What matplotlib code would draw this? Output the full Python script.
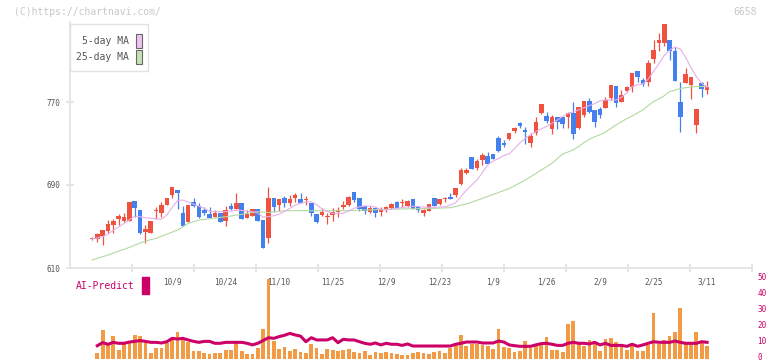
import numpy as np
import matplotlib.pyplot as plt
import matplotlib.transforms as mtransforms
from matplotlib.patches import Rectangle

W, H = 772, 361

# daily candles (red = up, blue = down)
opens = [638, 638, 641, 646, 651.4, 657.5, 655, 655, 674.6, 665.9,
         645, 644, 665, 663.3, 670.7, 680.7, 685, 663, 654.6, 674,
         669.7, 665.9, 662, 658.8, 662.7, 655.6, 670, 666.9, 672.3, 658.2,
         660.4, 666.5, 656, 639.2, 677.5, 670.7, 677.5, 673, 677.5, 676.5,
         675.8, 673, 662, 661, 658.8, 661, 664.3, 668.5, 670.7, 683.2,
         677.1, 669.7, 664.3, 667.5, 663.6, 665.9, 667.5, 673.9, 672.3, 669.7,
         676.5, 668.5, 663.3, 665.2, 677.1, 671.7, 676.2, 678.7, 680.4, 690.6,
         701.2, 716.7, 706.7, 714, 717.9, 719.9, 735, 730.8, 734, 742.1,
         749.5, 743.1, 730.5, 740.4, 759.2, 756.6, 744.4, 755.6, 755.9, 755.9,
         759.2, 745.3, 757.5, 771, 762.4, 763.3, 764.6, 774.3, 785.5, 770.4,
         780.7, 784.9, 800, 791.3, 789.7, 811.5, 827.3, 826.6, 829.8, 819.6,
         770.1, 788.1, 786.8, 748.2, 788.1, 781.6]
highs = [639.5, 643.4, 647, 656, 657, 661.7, 662.7, 673.6, 674.6, 665.9,
         651.4, 655.3, 668.5, 674, 677.5, 688, 685, 670, 670.7, 677.1,
         672.3, 668.5, 668.5, 665.9, 662.7, 669.7, 672.3, 682.6, 672.3, 665.9,
         666.5, 666.5, 656, 688, 677.5, 676.5, 679.4, 680.4, 682.6, 682.6,
         679.4, 673, 662, 667.5, 662.7, 667.5, 669, 674.9, 679.4, 683.2,
         677.1, 669.7, 669.7, 667.5, 668.5, 669.7, 673, 674.9, 676.5, 675.5,
         676.5, 669, 666.9, 671.7, 677.1, 676.2, 678.7, 682.6, 686.8, 706,
         706.7, 716.7, 714.7, 721.2, 721.5, 719.9, 737.2, 733.4, 740, 746.3,
         751.1, 746.3, 739.8, 755.9, 768.2, 760.8, 757, 755.6, 755.9, 760.8,
         770.1, 765.6, 771, 773.6, 762.4, 765.6, 775.2, 786.5, 785.5, 781.6,
         785.8, 797.7, 800, 792.9, 810.6, 829.8, 836.3, 845.3, 829.8, 823.4,
         789.7, 802.5, 793.9, 763.3, 789.7, 790.3]
lows = [637, 635.4, 632, 644, 644, 651.4, 654.6, 655, 659, 643,
        634.4, 644, 657, 659, 670.7, 677.5, 666.9, 650.5, 654.6, 668.5,
        657.9, 661, 658.5, 658.8, 654.6, 650.8, 665.9, 666.9, 657.5, 658.2,
        660.4, 655.6, 629.6, 634.4, 664.3, 665.2, 669, 669.7, 674, 673,
        671, 660, 653.7, 660.4, 652.4, 655.6, 658.8, 666.9, 669.7, 674,
        665.2, 662, 663.3, 659.5, 660.4, 663.6, 666.5, 667.5, 669, 669,
        666.9, 664.3, 660, 665.2, 669.7, 670.7, 673.3, 676.5, 678.7, 690,
        700.3, 705.4, 704.4, 709.3, 710.2, 714.7, 722.1, 726.3, 733, 739.9,
        745, 729.5, 726.5, 738.3, 758, 750, 739, 744, 744.7, 744.7,
        734.3, 744, 755.9, 759.2, 746.3, 754.3, 764.6, 772, 765.6, 770.4,
        780, 780, 789.7, 785.5, 785.5, 808, 819.6, 824.4, 810.6, 790.6,
        741.5, 788.1, 773.3, 739.9, 775.2, 777.8]
closes = [638, 642.4, 646.6, 652.4, 655.6, 660, 659.5, 673.6, 668, 644,
          647.6, 655.3, 665, 670.7, 677.5, 688, 682.3, 650.5, 670.7, 669.7,
          659.5, 662.7, 658.5, 662.7, 654.6, 665.9, 666.9, 672.3, 657.5, 662,
          666.5, 655.6, 629.6, 677.5, 669, 676.5, 672.3, 676.5, 680.4, 673,
          675.8, 663.3, 654.3, 664.3, 658.8, 664.3, 665.9, 670.7, 678, 675.5,
          666.9, 665.2, 668.1, 662.7, 666.9, 668.5, 671.7, 668.1, 673.9, 674.9,
          666.9, 665.9, 665.9, 671.7, 669.7, 676.2, 676.2, 676.5, 686.8, 704.4,
          704.4, 705.4, 713.1, 718.9, 710.2, 714.7, 723.1, 728.5, 740, 744.7,
          747.3, 741.4, 737.5, 751.1, 768.2, 752.1, 755.3, 750.8, 748.5, 759.2,
          739.1, 765.6, 771, 760.8, 751.1, 757.5, 772, 786.5, 769.4, 776.8,
          784.2, 797.7, 793.9, 787.1, 807.4, 820.2, 829.8, 845.3, 819.6, 790.6,
          755.9, 797.1, 793.9, 763.3, 782.9, 784.2]

ma5 = [638, 639, 640.2, 642.5, 646.5, 649.5, 653, 656.5, 660, 659.5,
       658.5, 658, 657.5, 657, 661, 668.5, 675, 675.5, 673.5, 671.5,
       669.5, 667.5, 664.5, 664.3, 664.3, 664.3, 665, 665.7, 665.5, 664.8,
       664.3, 663, 659, 659.5, 660.4, 662, 664.5, 667.5, 670.5, 672.5,
       673.5, 673.9, 671, 667, 664.5, 662.7, 662.7, 662.7, 665, 667.5,
       669, 669.7, 669.7, 668.5, 666.5, 666, 666.8, 667.5, 668.3, 669,
       669.5, 669.3, 668.7, 668.5, 668.5, 668.7, 669, 670.5, 673, 679,
       685, 690, 695, 702, 709.5, 713, 715.5, 718.5, 720, 725,
       730.5, 735, 738.5, 741.5, 744, 746.5, 749.5, 752.5, 756, 759,
       760.5, 762.4, 764.5, 766.5, 768.5, 771, 772, 772, 772, 774.5,
       779, 785, 786.5, 787.5, 792, 799.5, 807, 815, 820, 823,
       821, 813, 803, 794.5, 788, 784.2]
ma25 = [617.7, 619.3, 620.9, 622.5, 624.3, 626.2, 628, 629.9, 632, 634,
        636, 637.3, 638.6, 640.6, 642.6, 644.6, 646.6, 649.8, 653, 654.6,
        656.2, 656.8, 657.5, 658.1, 658.8, 659.4, 660.1, 660.9, 661.8, 662.6,
        663.5, 664.3, 663.9, 663.5, 664.1, 664.6, 665.2, 665.2, 665.2, 665.2,
        665.2, 665.2, 665.2, 665.2, 665.2, 665.2, 665.2, 665.2, 665.2, 665.4,
        665.7, 665.9, 666, 666.2, 666.3, 666.5, 666.6, 666.8, 666.9, 667,
        667.1, 667.2, 667.3, 667.4, 667.5, 667.7, 667.9, 668.1, 669.3, 670.5,
        671.7, 673.5, 675.3, 677.1, 679, 680.9, 682.8, 684.6, 686.5, 689.3,
        692, 694.8, 698, 701.2, 704.4, 707.7, 710.9, 715.4, 719.9, 721.8,
        724, 727, 731, 734, 736.5, 738.5, 741, 744.5, 748, 751,
        754, 756.5, 759.5, 762.4, 766.5, 770.4, 773, 776, 780, 781.5,
        783, 783.8, 784.4, 784.9, 784.9, 785]

# first day has no volume bar / AI value in the chart
volume = [0, 3.5, 17.8, 8.5, 14.1, 5.3, 9.5, 10.5, 14.7, 14.1,
          10.5, 3.5, 6.6, 6.6, 9.5, 11.6, 16.6, 13.0, 10.5, 4.7,
          4.7, 3.5, 2.8, 3.5, 3.5, 5.3, 5.3, 9.5, 4.7, 2.8,
          2.8, 6.6, 18.5, 49.7, 10.9, 6.0, 7.2, 4.7, 6.0, 4.1,
          3.5, 9.1, 6.6, 2.8, 6.0, 5.3, 4.7, 5.3, 6.0, 4.1,
          3.5, 4.7, 2.2, 4.1, 3.5, 4.1, 3.5, 2.8, 2.2, 2.2,
          3.5, 4.1, 3.5, 2.8, 4.1, 4.7, 3.5, 6.6, 8.5, 14.7,
          7.8, 9.1, 9.1, 8.5, 7.8, 6.0, 18.5, 7.2, 6.6, 4.1,
          4.7, 10.9, 6.6, 8.5, 8.5, 13.5, 5.3, 5.3, 4.1, 21.6,
          23.5, 9.1, 7.8, 11.6, 9.1, 4.7, 12.2, 12.8, 10.3, 8.5,
          5.3, 7.8, 4.7, 4.7, 8.5, 28.5, 9.1, 11.6, 14.1, 16.6,
          31.6, 9.1, 9.1, 16.6, 10.3, 7.8]
ai_predict = [np.nan, 8.0, 9.9, 8.9, 10.1, 9.5, 9.5, 10.3, 10.7, 11.2,
              10.7, 10.1, 10.1, 9.7, 10.5, 12.6, 12.2, 12.6, 11.6, 10.7,
              10.1, 10.7, 10.7, 9.5, 9.5, 10.1, 10.1, 10.1, 10.1, 9.5,
              8.5, 9.5, 11.2, 13.0, 12.6, 13.7, 14.5, 15.7, 14.7, 14.0,
              10.5, 13.0, 11.6, 11.6, 11.6, 13.0, 9.9, 12.0, 11.6, 11.6,
              10.5, 9.5, 8.9, 9.7, 8.5, 9.5, 8.9, 8.9, 8.2, 9.1,
              7.8, 7.8, 7.8, 7.8, 7.8, 7.8, 7.8, 7.8, 8.9, 9.5,
              10.3, 10.3, 10.3, 9.7, 9.7, 9.7, 10.9, 10.3, 8.5, 8.0,
              7.6, 7.6, 7.6, 8.5, 9.3, 9.5, 8.9, 8.2, 8.2, 9.5,
              10.1, 9.5, 9.5, 9.1, 10.1, 8.5, 9.5, 8.2, 8.2, 8.2,
              7.6, 8.9, 7.6, 8.5, 9.5, 10.5, 10.1, 10.1, 10.1, 10.9,
              10.1, 9.5, 9.5, 9.5, 10.5, 10.1]

date_labels = ['10/9', '10/24', '11/10', '11/25', '12/9', '12/23',
               '1/9', '1/26', '2/9', '2/25', '3/11']
date_index = [15, 25, 35, 45, 55, 65, 75, 85, 95, 105, 115]
price_ticks = [610, 690, 770]
ai_ticks = [0, 10, 20, 30, 40, 50]

RED = '#f05240'
BLUE = '#4480ee'
ORANGE = '#f29a44'
CRIMSON = '#cc0066'
GRID = '#e2e2e2'
TXT = '#555555'
MONO = 'DejaVu Sans Mono'


def fx(px):
    return px / W


def fy(py):
    return 1 - py / H


fig = plt.figure(figsize=(W / 100, H / 100), dpi=100)
xlim = (-4.1, 123.4)

# --- price panel ---
ax = fig.add_axes([fx(70), fy(268), fx(752) - fx(70), fy(22) - fy(268)])
idx = np.arange(len(opens))
o = np.array(opens)
c = np.array(closes)
cols = [RED if cc >= oo else BLUE for oo, cc in zip(o, c)]
ax.vlines(idx, lows, highs, colors=cols, lw=0.9, zorder=2)
ax.bar(idx, np.maximum(np.abs(c - o), 0.9), bottom=np.minimum(o, c),
       width=0.85, color=cols, zorder=3)
ax.plot(idx, ma25, color='#b2d9a2', lw=0.8, zorder=4)
ax.plot(idx, ma5, color='#e6aeea', lw=0.8, zorder=4)

ax.set_xlim(*xlim)
ax.set_ylim(610, 610 + 246 / 1.0375)
for s in ['top', 'right']:
    ax.spines[s].set_visible(False)
for s in ['left', 'bottom']:
    ax.spines[s].set_color(GRID)
    ax.spines[s].set_linewidth(1.2)
ax.set_yticks(price_ticks)
ax.set_yticklabels([str(t) for t in price_ticks], fontfamily=MONO,
                   fontsize=5.5, color=TXT)
ax.set_xticks(np.linspace(xlim[0], xlim[1], 12)[1:])
ax.set_xticklabels([])
ax.tick_params(axis='both', direction='inout', length=6, width=1.2,
               color=GRID, pad=4)
ax.patch.set_alpha(0)

# --- volume / AI-Predict panel ---
vax = fig.add_axes([fx(70), fy(358.5), fx(752) - fx(70), fy(278.5) - fy(358.5)])
vax.bar(idx, volume, width=0.7, color=ORANGE, zorder=2)
vax.plot(idx, ai_predict, color=CRIMSON, lw=2.2, zorder=3)
vax.set_xlim(*xlim)
vax.set_ylim(0, 50)
for s in vax.spines.values():
    s.set_visible(False)
vax.set_xticks([])
vax.yaxis.tick_right()
vax.set_yticks(ai_ticks)
vax.set_yticklabels([str(t) for t in ai_ticks], fontfamily=MONO,
                    fontsize=5.5, color=CRIMSON)
vax.tick_params(axis='y', length=0, pad=4)
lift = mtransforms.ScaledTranslation(0, 1.5 / 100, fig.dpi_scale_trans)
for lab in vax.get_yticklabels():
    lab.set_transform(lab.get_transform() + lift)
vax.patch.set_alpha(0)
# date labels sit under the bars (the tall bar hides part of one)
for lab, i in zip(date_labels, date_index):
    vax.text(i, 47.8, lab, ha='center', va='center', fontfamily=MONO,
             fontsize=5.5, color=TXT, zorder=1, clip_on=False)

fig.text(fx(76), fy(286), 'AI-Predict', fontfamily=MONO, fontsize=7,
         color=CRIMSON, va='center', ha='left')
fig.patches.append(Rectangle((fx(142), fy(294)), fx(7), 17 / H,
                             transform=fig.transFigure, color=CRIMSON))

# --- legend box ---
fig.patches.append(Rectangle((fx(70), fy(71)), fx(78), 47 / H,
                             transform=fig.transFigure, facecolor='white',
                             edgecolor=GRID, lw=1.0, zorder=5))
for ty, lab, fc in [(41, '5-day MA', '#f0c2f0'), (57, '25-day MA', '#c4e2b4')]:
    fig.text(fx(129), fy(ty), lab, fontfamily=MONO, fontsize=7, color=TXT,
             ha='right', va='center', zorder=6)
    fig.patches.append(Rectangle((fx(136), fy(ty + 7)), fx(6), 14 / H,
                                 transform=fig.transFigure, facecolor=fc,
                                 edgecolor='#666666', lw=0.8, zorder=6))

# watermark / code
fig.text(fx(14), fy(12), '(C)https://chartnavi.com/', fontfamily=MONO,
         fontsize=7, color='#c8c8c8', ha='left', va='center')
fig.text(fx(757), fy(12), '6658', fontfamily=MONO, fontsize=7,
         color='#c8c8c8', ha='right', va='center')

fig.savefig('out.png', dpi=100)
